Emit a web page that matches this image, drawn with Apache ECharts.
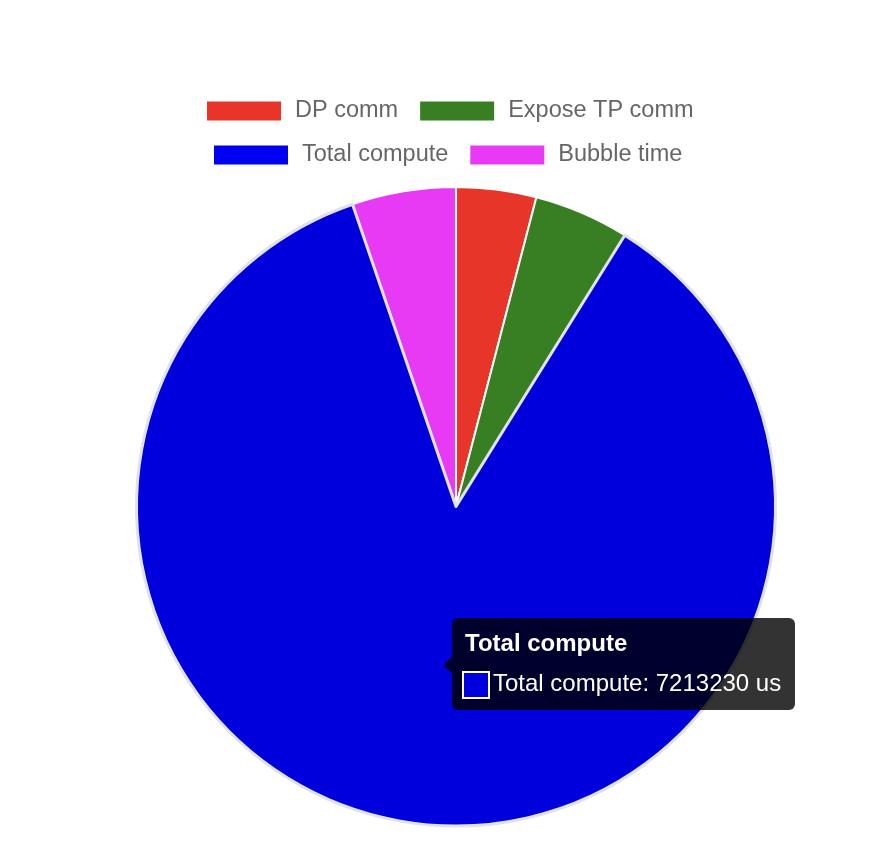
<!DOCTYPE html>
<html>
<head>
<meta charset="utf-8">
<script src="https://cdn.jsdelivr.net/npm/echarts@6/dist/echarts.min.js"></script>
<style>
html,body{margin:0;padding:0;background:#fff;}
#chart{width:890px;height:862px;position:relative;}
</style>
</head>
<body>
<div id="chart"></div>
<script>
// ---- data ----
const categories = ['DP comm', 'Expose TP comm', 'Total compute', 'Bubble time'];
const values = [340000, 404000, 7213230, 441000];
const sliceColors = ['#e8352a', '#387e22', '#0000dd', '#e83af5'];
const legendColors = ['#e8352a', '#387e22', '#0000f2', '#e83af5'];
const unit = 'us';
const legendRow1 = ['DP comm', 'Expose TP comm'];
const legendRow2 = ['Total compute', 'Bubble time'];
const hoverIndex = 2;

const FONT = "'Liberation Sans', Arial, Helvetica, sans-serif";

const chart = echarts.init(document.getElementById('chart'), null, {renderer: 'canvas'});

function legendData(names) {
  return names.map(n => ({
    name: n,
    icon: 'rect',
    itemStyle: {color: legendColors[categories.indexOf(n)], borderWidth: 0}
  }));
}
const legendCommon = {
  orient: 'horizontal',
  padding: 0,
  itemWidth: 74,
  itemHeight: 19,
  itemGap: 22,
  selectedMode: false,
  itemStyle: {borderWidth: 0},
  textStyle: {fontSize: 23.5, color: '#666', fontFamily: FONT, lineHeight: 19, padding: [0, 0, 0, 9]}
};

const pieData = categories.map((c, i) => {
  const item = {
    name: c,
    value: values[i],
    itemStyle: {color: sliceColors[i], borderColor: '#ffffff', borderWidth: 2},
    emphasis: {itemStyle: {color: sliceColors[i], borderColor: '#ffffff', borderWidth: 2}}
  };
  if (i === hoverIndex) {
    item.itemStyle = {color: sliceColors[i], borderColor: '#e2e2e2', borderWidth: 3};
    item.emphasis = {itemStyle: {color: sliceColors[i], borderColor: '#e2e2e2', borderWidth: 3}};
  }
  return item;
});

chart.setOption({
  animation: false,
  legend: [
    Object.assign({}, legendCommon, {left: 207, top: 99, data: legendData(legendRow1)}),
    Object.assign({}, legendCommon, {left: 214, top: 143, data: legendData(legendRow2)})
  ],
  tooltip: {
    trigger: 'item',
    triggerOn: 'none',
    alwaysShowContent: true,
    transitionDuration: 0,
    showDelay: 0,
    hideDelay: 0,
    padding: 0,
    borderWidth: 0,
    borderRadius: 6,
    backgroundColor: 'rgba(0,0,0,0.8)',
    extraCssText: 'box-shadow:none;',
    position: [452, 618],
    formatter: function (p) {
      return '<div style="position:relative;width:343px;height:92px;font-family:' + FONT.replace(/'/g, '&quot;') + ';color:#fff;">' +
        '<div style="position:absolute;left:13px;top:13px;font-size:24px;line-height:24px;font-weight:bold;white-space:nowrap;">' + p.name + '</div>' +
        '<div style="position:absolute;left:10px;top:53px;width:24px;height:24px;border:2px solid #fff;background:' + p.color + ';"></div>' +
        '<div style="position:absolute;left:41px;top:53px;font-size:24px;line-height:24px;white-space:nowrap;">' + p.name + ': ' + p.value + ' ' + unit + '</div>' +
        '</div>';
    }
  },
  graphic: [{
    type: 'polygon',
    z: 100,
    shape: {points: [[452, 656.5], [443.5, 665], [452, 673.5]]},
    style: {fill: 'rgba(0,0,0,0.8)'}
  }],
  series: [{
    type: 'pie',
    center: [456, 506.5],
    radius: [0, 319.5],
    startAngle: 90,
    clockwise: true,
    label: {show: false},
    labelLine: {show: false},
    emphasis: {scale: false, focus: 'none'},
    data: pieData
  }]
});

chart.dispatchAction({type: 'highlight', seriesIndex: 0, dataIndex: hoverIndex});
chart.dispatchAction({type: 'showTip', seriesIndex: 0, dataIndex: hoverIndex});
</script>
</body>
</html>
